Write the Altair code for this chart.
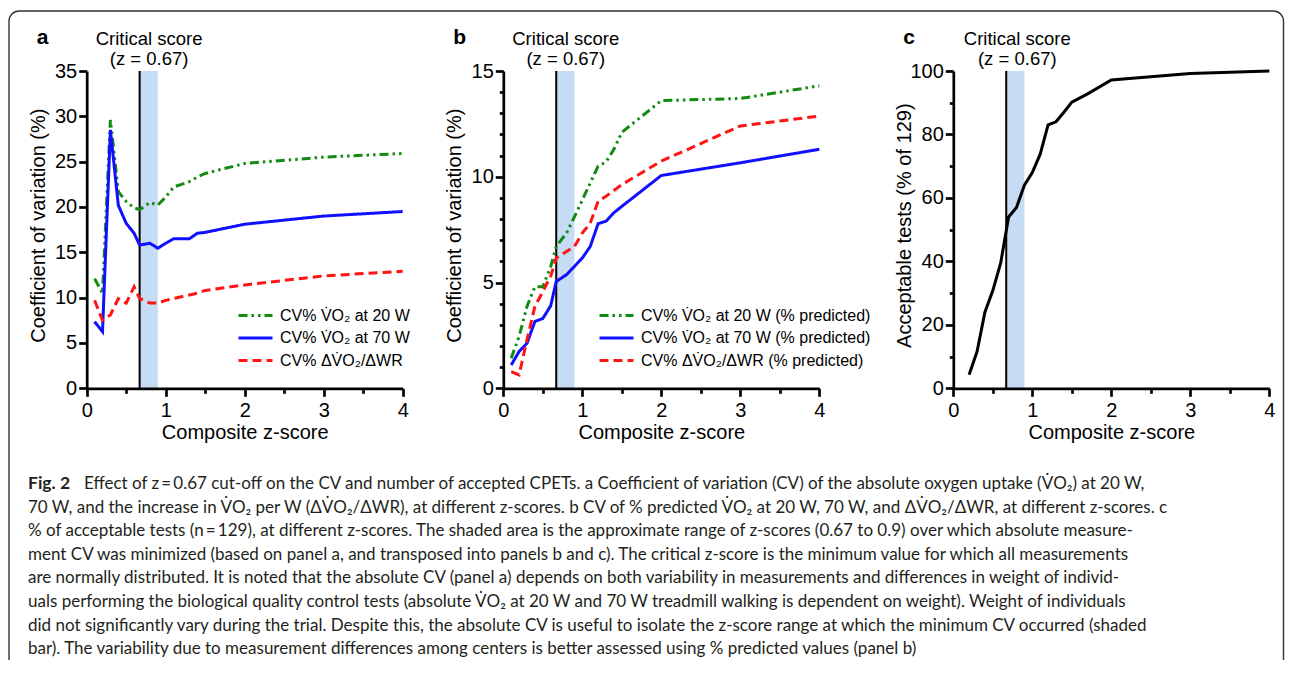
import altair as alt
import pandas as pd

# ---------------- data ----------------
z_ab = [0.1, 0.2, 0.3, 0.4, 0.5, 0.6, 0.67, 0.8, 0.9, 1.0, 1.1, 1.2, 1.3, 1.4, 1.5, 2.0, 3.0, 4.0]
cv20_abs = [12.1, 10.5, 29.6, 21.7, 20.6, 19.9, 19.7, 20.5, 20.2, 21.1, 22.2, 22.5, 22.8, 23.3, 23.7, 24.8, 25.5, 25.9]
cv70_abs = [7.35, 6.25, 28.5, 20.2, 18.2, 17.1, 15.8, 16.0, 15.45, 16.0, 16.5, 16.5, 16.5, 17.1, 17.2, 18.1, 19.0, 19.5]
cvslope_abs = [9.7, 7.5, 8.1, 9.9, 9.4, 11.2, 9.9, 9.4, 9.4, 9.7, 9.9, 10.1, 10.3, 10.5, 10.8, 11.4, 12.4, 12.9]

cv20_pred = [1.42, 2.45, 3.87, 4.8, 4.8, 5.76, 6.7, 7.34, 8.1, 8.9, 9.7, 10.5, 10.7, 11.3, 12.1, 13.6, 13.7, 14.3]
cv70_pred = [1.1, 1.74, 2.13, 3.16, 3.3, 3.9, 5.05, 5.37, 5.76, 6.16, 6.7, 7.78, 7.9, 8.3, 8.6, 10.06, 10.66, 11.3]
cvslope_pred = [0.79, 0.63, 2.3, 3.87, 4.58, 5.3, 6.16, 6.47, 6.7, 7.34, 7.8, 8.84, 9.08, 9.35, 9.63, 10.74, 12.4, 12.87]

z_c = [0.2, 0.3, 0.4, 0.5, 0.6, 0.7, 0.8, 0.9, 1.0, 1.1, 1.2, 1.3, 1.4, 1.5, 1.7, 2.0, 3.0, 4.0]
acceptable_pct = [4.3, 11.5, 24.0, 30.8, 39.5, 54.0, 57.0, 64.0, 68.0, 73.8, 83.0, 84.0, 87.0, 90.2, 92.8, 97.2, 99.2, 100.0]

z_critical = 0.67
z_band_hi = 0.9
annot_x = [0.79, 0.79, 0.81]

labels_abs = ["CV% V\u0307O\u2082 at 20 W", "CV% V\u0307O\u2082 at 70 W", "CV% \u0394V\u0307O\u2082/\u0394WR"]
labels_pred = [s + " (% predicted)" for s in labels_abs]
series_colors = ["#138a13", "#1010ff", "#ff1414"]
series_dashes = [[9, 4, 2.5, 4, 2.5, 4], [1, 0], [9, 5]]

x_ticks = [0, 1, 2, 3, 4]
x_minor = [0.5, 1.5, 2.5, 3.5]
y_ticks_a = [0, 5, 10, 15, 20, 25, 30, 35]
y_ticks_b = [0, 5, 10, 15]
y_minor_b = [1, 2, 3, 4, 6, 7, 8, 9, 11, 12, 13, 14]
y_ticks_c = [0, 20, 40, 60, 80, 100]
y_minor_c = [10, 30, 50, 70, 90]

caption_fig = "Fig. 2"
caption_line1 = ("Effect of z\u2009=\u20090.67 cut-off on the CV and number of accepted CPETs. a Coefficient of "
                 "variation (CV) of the absolute oxygen uptake (V\u0307O\u2082) at 20 W,")
caption_rest = [
    "70 W, and the increase in V\u0307O\u2082 per W (\u0394V\u0307O\u2082/\u0394WR), at different z-scores. b CV of % predicted V\u0307O\u2082 at 20 W, 70 W, and \u0394V\u0307O\u2082/\u0394WR, at different z-scores. c",
    "% of acceptable tests (n\u2009=\u2009129), at different z-scores. The shaded area is the approximate range of z-scores (0.67 to 0.9) over which absolute measure-",
    "ment CV was minimized (based on panel a, and transposed into panels b and c). The critical z-score is the minimum value for which all measurements",
    "are normally distributed. It is noted that the absolute CV (panel a) depends on both variability in measurements and differences in weight of individ-",
    "uals performing the biological quality control tests (absolute V\u0307O\u2082 at 20 W and 70 W treadmill walking is dependent on weight). Weight of individuals",
    "did not significantly vary during the trial. Despite this, the absolute CV is useful to isolate the z-score range at which the minimum CV occurred (shaded",
    "bar). The variability due to measurement differences among centers is better assessed using % predicted values (panel b)",
]

# ---------------- layout constants ----------------
W, H = 1277, 652
TOP, BOTTOM = 63.0, 380.3
LEFTS = [78.7, 495.3, 945.3]
PW = 316.0
FONT = "Liberation Sans"
CAP_FONT = "Lato, sans-serif"
BAND = "#c6dbf4"
ONE = alt.Data(values=[{}])
LEGEND_SYMBOL = "M-1.7,0H1.7"   # long horizontal stroke (scaled by sqrt(size)/2)


def ax(**kw):
    base = dict(domainColor="black", domainWidth=2.7, tickColor="black", tickWidth=2.7,
                labelFont=FONT, labelFontSize=20, labelColor="black", labelFlush=False,
                labelOverlap=False, titleFont=FONT, titleFontSize=20, titleFontWeight="normal",
                titleColor="black", grid=False, zindex=1)
    base.update(kw)
    return alt.Axis(**base)


def long_df(z, cols, labels):
    rows = []
    for lab, vals in zip(labels, cols):
        for zi, v in zip(z, vals):
            rows.append({"z": zi, "v": v, "series": lab})
    return pd.DataFrame(rows)


def panel(i, df, ymax, yticks, yminor, ytitle, letter, labels=None, legend_xy=None):
    left = LEFTS[i]
    xs = alt.Scale(domain=[0, 4], range=[left, left + PW], nice=False, zero=False)
    ys = alt.Scale(domain=[0, ymax], range=[BOTTOM, TOP], nice=False, zero=False)
    main_x = ax(orient="bottom", offset=BOTTOM - H, values=x_ticks, format="d", tickSize=8,
                labelPadding=4, title="Composite z-score", titleX=left + PW / 2, titleY=50,
                titleBaseline="alphabetic", titleAlign="center")
    minor_x = ax(orient="bottom", offset=BOTTOM - H, values=x_minor, labels=False, domain=False,
                 tickSize=5, title=None)
    main_y = ax(orient="left", offset=-left, values=yticks, format="d", tickSize=8, labelPadding=2,
                title=ytitle, titleX=-42.5, titleY=(TOP + BOTTOM) / 2 - 4.5, titleAngle=270,
                titleBaseline="alphabetic", titleAlign="center")
    if yminor:
        minor_y = ax(orient="left", offset=-left, values=yminor, labels=False, domain=False,
                     tickSize=4, title=None)
    else:
        minor_y = None

    band_df = pd.DataFrame({"lo": [z_critical], "hi": [z_band_hi]})
    band = alt.Chart(band_df).mark_rect(color=BAND).encode(
        x=alt.X("lo:Q", axis=minor_x),
        x2="hi:Q",
        y=alt.Y(datum=0, type="quantitative", axis=minor_y),
        y2=alt.Y2(datum=ymax),
    )
    rule = alt.Chart(band_df).mark_rule(color="black", strokeWidth=2).encode(
        x=alt.X("lo:Q", axis=None),
        y=alt.Y(datum=0, type="quantitative", axis=None),
        y2=alt.Y2(datum=ymax),
    )
    if labels is not None:
        leg = alt.Legend(title=None, orient="none", legendX=legend_xy[0], legendY=legend_xy[1],
                         symbolType=LEGEND_SYMBOL, symbolSize=400, symbolStrokeWidth=3,
                         labelFont=FONT, labelFontSize=16, labelColor="black", labelOffset=13,
                         labelLimit=500, rowPadding=2.5, padding=0)
        lines = alt.Chart(df).mark_line(strokeWidth=3).encode(
            x=alt.X("z:Q", scale=xs, axis=main_x),
            y=alt.Y("v:Q", scale=ys, axis=main_y),
            color=alt.Color("series:N", scale=alt.Scale(domain=labels, range=series_colors),
                            legend=leg),
            strokeDash=alt.StrokeDash("series:N",
                                      scale=alt.Scale(domain=labels, range=series_dashes),
                                      legend=leg),
        )
    else:
        lines = alt.Chart(df).mark_line(strokeWidth=3, color="black").encode(
            x=alt.X("z:Q", scale=xs, axis=main_x),
            y=alt.Y("v:Q", scale=ys, axis=main_y),
        )
    annot = alt.Chart(ONE).mark_text(
        text=["Critical score", "(z = 0.67)"], lineHeight=20, font=FONT, fontSize=18.5,
        align="center", baseline="alphabetic", color="black"
    ).encode(x=alt.X(datum=annot_x[i], type="quantitative", axis=None), y=alt.value(37))
    let = alt.Chart(ONE).mark_text(
        text=letter, font=FONT, fontSize=21, fontWeight="bold", align="left",
        baseline="alphabetic", color="black"
    ).encode(x=alt.value(left - 50), y=alt.value(36))
    return alt.layer(band, rule, lines, annot, let).resolve_axis(x="independent", y="independent")


df_a = long_df(z_ab, [cv20_abs, cv70_abs, cvslope_abs], labels_abs)
df_b = long_df(z_ab, [cv20_pred, cv70_pred, cvslope_pred], labels_pred)
df_c = pd.DataFrame({"z": z_c, "v": acceptable_pct})

pa = panel(0, df_a, 35, y_ticks_a, None, "Coefficient of variation (%)", "a", labels_abs, (236, 296))
pb = panel(1, df_b, 15, y_ticks_b, y_minor_b, "Coefficient of variation (%)", "b", labels_pred, (597, 296))
pc = panel(2, df_c, 100, y_ticks_c, y_minor_c, "Acceptable tests (% of 129)", "c")

border = alt.Chart(ONE).mark_rect(
    fill="white", fillOpacity=0, stroke="#333333", strokeWidth=1.4, cornerRadius=10
).encode(x=alt.value(1), x2=alt.value(1275.5), y=alt.value(3), y2=alt.value(760))

cap_bold = alt.Chart(ONE).mark_text(
    text=caption_fig, font=CAP_FONT, fontSize=17.5, fontWeight="bold", align="left",
    baseline="alphabetic", color="#231f20"
).encode(x=alt.value(20), y=alt.value(481))
cap_l1 = alt.Chart(ONE).mark_text(
    text=caption_line1, font=CAP_FONT, fontSize=17, align="left",
    baseline="alphabetic", color="#231f20"
).encode(x=alt.value(76), y=alt.value(481))
cap_rest = alt.Chart(ONE).mark_text(
    text=caption_rest, font=CAP_FONT, fontSize=17, lineHeight=23.6, align="left",
    baseline="alphabetic", color="#231f20"
).encode(x=alt.value(20), y=alt.value(504.5))

chart = alt.layer(border, pa, pb, pc, cap_bold, cap_l1, cap_rest).resolve_scale(
    x="independent", y="independent", color="independent", strokeDash="independent"
).properties(
    width=W, height=H, padding=0, autosize=alt.AutoSizeParams(type="none")
).configure_view(strokeWidth=0)

chart.save("out.html", embed_options={"renderer": "svg", "actions": False})
